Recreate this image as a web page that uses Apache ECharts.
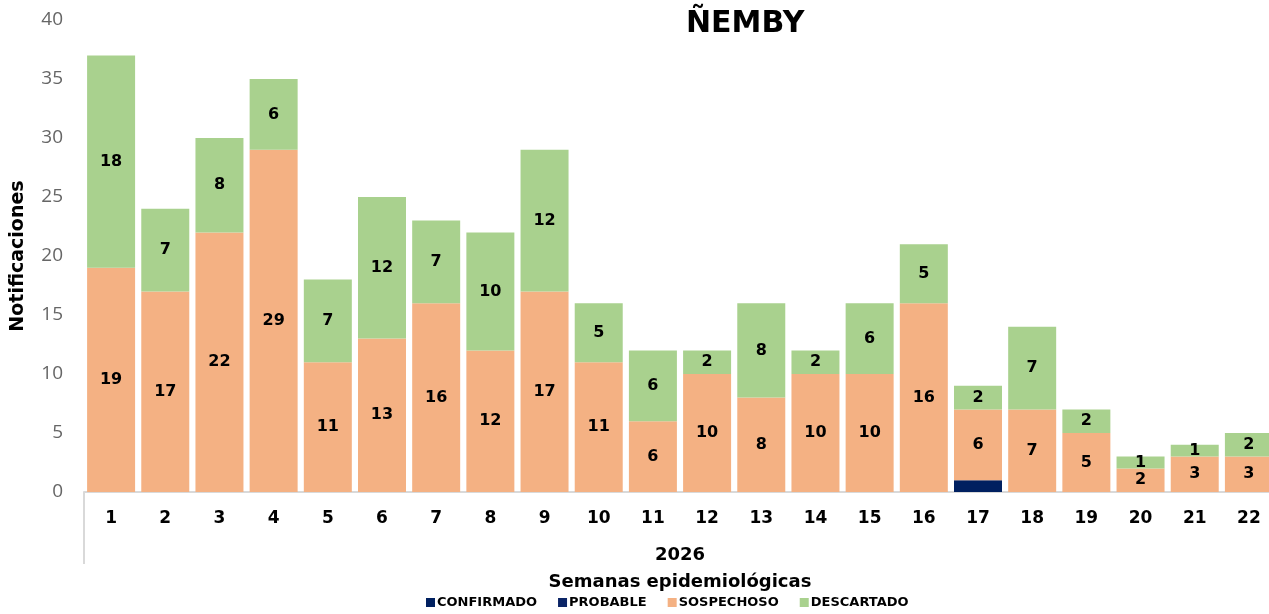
<!DOCTYPE html>
<html>
<head>
<meta charset="utf-8">
<script src="https://cdn.jsdelivr.net/npm/echarts@6/dist/echarts.min.js"></script>
<style>
  html, body { margin: 0; padding: 0; background: #fff; }
  #chart { width: 1269px; height: 614px; }
</style>
</head>
<body>
<div id="chart"></div>
<script>
// datos por semana epidemiológica
const semanas = ['1','2','3','4','5','6','7','8','9','10','11','12','13','14','15','16','17','18','19','20','21','22'];
const confirmado = [0,0,0,0,0,0,0,0,0,0,0,0,0,0,0,0,1,0,0,0,0,0];
const probable   = [0,0,0,0,0,0,0,0,0,0,0,0,0,0,0,0,0,0,0,0,0,0];
const sospechoso = [19,17,22,29,11,13,16,12,17,11,6,10,8,10,10,16,6,7,5,2,3,3];
const descartado = [18,7,8,6,7,12,7,10,12,5,6,2,8,2,6,5,2,7,2,1,1,2];
const anio = ['2026'];
const yTicks = { min: 0, max: 40, interval: 5 };

const colors = {
    confirmado: '#002060',
    probable: '#0B2466',
    sospechoso: '#F4B183',
    descartado: '#A9D18E',
    axisLine: '#D9D9D9',
    tickText: '#666666',
};

const font = '"DejaVu Sans", sans-serif';

const labelStyle = {
    show: true,
    position: 'inside',
    color: '#000',
    fontWeight: 'bold',
    fontSize: 16,
    fontFamily: font,
    formatter: (p) => (p.value ? p.value : '')
};

const makeSeries = (name, data, color, withLabel) => ({
    name,
    type: 'bar',
    stack: 'total',
    barWidth: 48,
    data,
    itemStyle: { color },
    label: withLabel ? labelStyle : { show: false },
    emphasis: { disabled: true }
});

const chart = echarts.init(document.getElementById('chart'));

chart.setOption({
    backgroundColor: '#fff',
    animation: false,
    title: {
        text: 'ÑEMBY',
        left: 681,
        top: 4,
        textStyle: { color: '#000', fontSize: 30, fontWeight: 'bold', fontFamily: font }
    },
    legend: {
        bottom: 0,
        left: 421,
        itemWidth: 9,
        itemHeight: 9,
        itemGap: 21,
        icon: 'rect',
        textStyle: { color: '#000', fontSize: 13, fontWeight: 'bold', fontFamily: font, padding: [0, 0, 0, -3] },
        data: ['CONFIRMADO', 'PROBABLE', 'SOSPECHOSO', 'DESCARTADO']
    },
    grid: { left: 84, right: -7, top: 20, bottom: 122, outerBoundsMode: 'none' },
    xAxis: [{
        type: 'category',
        data: semanas,
        position: 'bottom',
        axisLine: { show: true, lineStyle: { color: colors.axisLine, width: 2 } },
        axisTick: { show: true, length: 72, interval: (i) => i === 0, lineStyle: { color: colors.axisLine, width: 2 } },
        axisLabel: { color: '#000', fontSize: 17, fontWeight: 'bold', fontFamily: font, margin: 18 },
        name: 'Semanas epidemiológicas',
        nameLocation: 'middle',
        nameGap: 81,
        nameTextStyle: { color: '#000', fontSize: 18, fontWeight: 'bold', fontFamily: font }
    }, {
        type: 'category',
        data: anio,
        position: 'bottom',
        offset: 38,
        axisLine: { show: false },
        axisTick: { show: false },
        axisLabel: { color: '#000', fontSize: 18, fontWeight: 'bold', fontFamily: font, margin: 16 }
    }],
    yAxis: {
        type: 'value',
        min: yTicks.min,
        max: yTicks.max,
        interval: yTicks.interval,
        splitLine: { show: false },
        axisLine: { show: false },
        axisTick: { show: false },
        axisLabel: { color: colors.tickText, fontSize: 19, fontFamily: '"Open Sans", sans-serif', margin: 21 },
        name: 'Notificaciones',
        nameLocation: 'middle',
        nameGap: 56,
        nameTextStyle: { color: '#000', fontSize: 19, fontWeight: 'bold', fontFamily: font }
    },
    series: [
        makeSeries('CONFIRMADO', confirmado, colors.confirmado, false),
        makeSeries('PROBABLE', probable, colors.probable, false),
        makeSeries('SOSPECHOSO', sospechoso, colors.sospechoso, true),
        makeSeries('DESCARTADO', descartado, colors.descartado, true)
    ]
});
</script>
</body>
</html>
